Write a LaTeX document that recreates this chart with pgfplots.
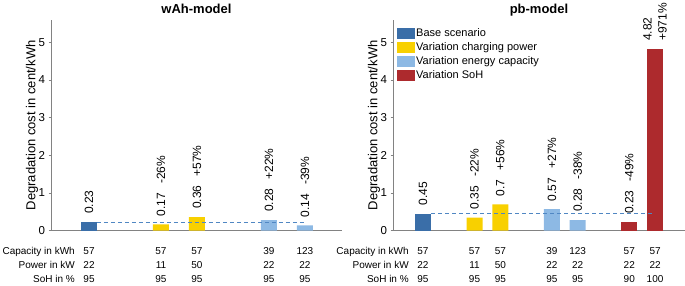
\documentclass[border=0pt]{standalone}
\usepackage{fontspec}
\setmainfont{Liberation Sans}
\usepackage{pgfplots}
\pgfplotsset{compat=1.18}
\definecolor{cbase}{RGB}{58,110,168}
\definecolor{cyel}{RGB}{248,208,0}
\definecolor{clb}{RGB}{141,185,228}
\definecolor{cred}{RGB}{173,42,45}
\definecolor{cdash}{RGB}{80,135,195}
\definecolor{caxis}{RGB}{130,130,130}
\newcommand{\tabfont}{\fontsize{10}{12}\selectfont}
\newcommand{\col}[4]{%
 \node[anchor=base,inner sep=0pt,font=\tabfont,yshift=-23.3pt] at (axis cs:#1,0) {#2};
 \node[anchor=base,inner sep=0pt,font=\tabfont,yshift=-37.3pt] at (axis cs:#1,0) {#3};
 \node[anchor=base,inner sep=0pt,font=\tabfont,yshift=-51.3pt] at (axis cs:#1,0) {#4};}
\newcommand{\rowlabels}{%
 \node[anchor=base east,inner sep=0pt,font=\tabfont,xshift=-14pt,yshift=-23.3pt] at (axis cs:0,0) {Capacity in kWh};
 \node[anchor=base east,inner sep=0pt,font=\tabfont,xshift=-14pt,yshift=-37.3pt] at (axis cs:0,0) {Power in kW};
 \node[anchor=base east,inner sep=0pt,font=\tabfont,xshift=-14pt,yshift=-51.3pt] at (axis cs:0,0) {SoH in \%};}
\pgfplotsset{
 panel/.style={
  scale only axis, height=210.7pt, ymin=0, ymax=5.59,
  anchor=south west,
  axis x line*=bottom, axis y line*=left,
  axis line style={caxis, line width=0.6pt},
  ytick={0,1,2,3,4,5}, xtick=\empty,
  tick align=outside, major tick length=2.5pt,
  ytick style={caxis, line width=0.6pt},
  yticklabel style={font=\fontsize{11.5}{13}\selectfont},
  /pgf/number format/assume math mode=true,
  every axis y label/.style={at={(axis description cs:-0.0653,0.5)}, rotate=90, anchor=center},
  ylabel={Degradation cost in cent/kWh},
  ylabel style={font=\fontsize{13}{15}\selectfont},
  every axis title shift=0pt,
  title style={font=\bfseries\fontsize{13}{15}\selectfont, anchor=base, yshift=6.5pt},
  clip=false,
  ybar, bar width=16pt,
 },
 lab/.style={point meta=explicit symbolic, nodes near coords={\pgfplotspointmeta},
  nodes near coords style={rotate=90, anchor=west, inner xsep=8pt, inner ysep=0pt,
   font=\fontsize{12}{15}\selectfont, align=left, text=black}},
 leg/.style={legend image code/.code={\fill[##1] (0pt,-5.5pt) rectangle (18pt,5.5pt);}},
 dashl/.style={sharp plot, draw=cdash, color=cdash, dash pattern=on 4pt off 3pt, line width=0.8pt, forget plot},
}
\begin{document}
\begin{tikzpicture}
\useasboundingbox (0,0) rectangle (685pt,285pt);
% ---------------- left panel
\begin{axis}[panel, at={(51pt,54.3pt)}, width=291pt, xmin=-1.056, xmax=7.03, title={wAh-model}]
\addplot[fill=cbase, draw=none, bar shift=0pt, lab] coordinates {(0,0.23) [0.23]};
\addplot[fill=cyel, draw=none, bar shift=0pt, lab] coordinates {(2,0.17) [0.17\kern9pt-26\%] (3,0.36) [0.36\kern9pt+57\%]};
\addplot[fill=clb, draw=none, bar shift=0pt, lab] coordinates {(5,0.28) [0.28\kern9pt+22\%] (6,0.14) [0.14\kern9pt-39\%]};
\addplot[dashl] coordinates {(0.22,0.23) (6,0.23)};
\rowlabels
\col{0}{57}{22}{95}
\col{2}{57}{11}{95}
\col{3}{57}{50}{95}
\col{5}{39}{22}{95}
\col{6}{123}{22}{95}
\end{axis}
% ---------------- right panel
\begin{axis}[panel, at={(393pt,54.3pt)}, width=292pt, xmin=-1.16, xmax=10.16, title={pb-model},
  legend style={draw=none, fill=none, at={(axis description cs:0,1)}, anchor=north west,
   xshift=4pt, yshift=-6pt, inner sep=0pt, row sep=0pt, font=\fontsize{11}{13}\selectfont,
   nodes={inner xsep=1pt, inner ysep=0pt, text height=10pt, text depth=4pt}},
  legend cell align=left]
\addplot[fill=cbase, draw=none, bar shift=0pt, lab, leg] coordinates {(0,0.45) [0.45]};
\addplot[fill=cyel, draw=none, bar shift=0pt, lab, leg] coordinates {(2,0.35) [0.35\kern9pt-22\%] (3,0.7) [0.7\kern9pt+56\%]};
\addplot[fill=clb, draw=none, bar shift=0pt, lab, leg] coordinates {(5,0.57) [0.57\kern9pt+27\%] (6,0.28) [0.28\kern9pt-38\%]};
\addplot[fill=cred, draw=none, bar shift=0pt, lab, leg] coordinates {(8,0.23) [0.23\kern9pt-49\%]};
\addplot[fill=cred, draw=none, bar shift=0pt, forget plot, nodes near coords={4.82\\+971\%},
  nodes near coords style={rotate=90, anchor=west, inner xsep=8pt, inner ysep=0pt,
   font=\fontsize{12}{15}\selectfont, align=left, text=black}] coordinates {(9,4.82)};
\addplot[dashl] coordinates {(0.33,0.45) (9,0.45)};
\legend{Base scenario, Variation charging power, Variation energy capacity, Variation SoH}
\rowlabels
\col{0}{57}{22}{95}
\col{2}{57}{11}{95}
\col{3}{57}{50}{95}
\col{5}{39}{22}{95}
\col{6}{123}{22}{95}
\col{8}{57}{22}{90}
\col{9}{57}{22}{100}
\end{axis}
\end{tikzpicture}
\end{document}
